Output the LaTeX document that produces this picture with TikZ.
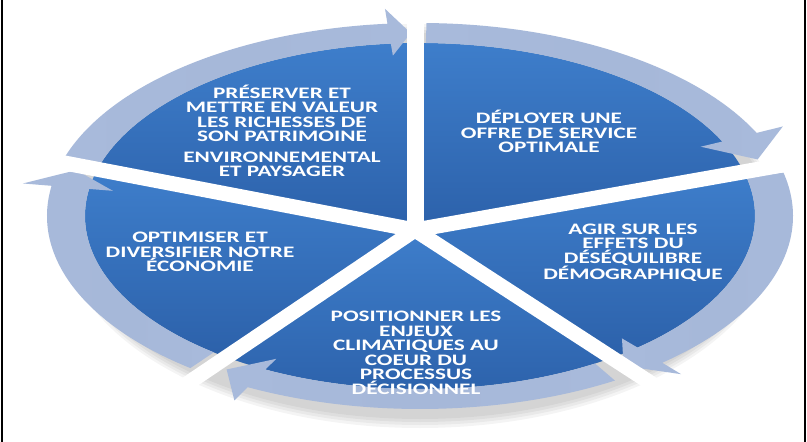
\documentclass[tikz,border=0pt]{standalone}
\usepackage{fontspec}
\newfontfamily\lblfont[FakeStretch=1.45]{Carlito}
\usetikzlibrary{calc}
\definecolor{slicetop}{HTML}{3E7ECB}
\definecolor{slicebot}{HTML}{2C61AA}
\definecolor{ringcol}{HTML}{A8BADB}
\definecolor{ringdark}{HTML}{8E9FC0}
\tikzset{
  slicefill/.style={top color=slicetop, bottom color=slicebot},
  ringfill/.style={left color=ringcol, right color=ringcol, middle color=ringcol!92!ringdark},
  gapline/.style={draw=white, line width=15pt},
  lbl/.style={text=white, align=center, inner sep=0pt, font=\lblfont\bfseries\fontsize{16}{14.5}\selectfont},
  framerule/.style={draw=black, line width=1.6pt}
}
\newcommand\pieslice[2]{%
  \path[slicefill] (S) -- ($(C)+(#1:335 and 173)$)
    arc[start angle=#1, end angle=#2, x radius=335, y radius=173] -- cycle;}
\newcommand\ringarrow[3]{%
  \path[ringfill] ($(C)+(#1:373 and 193)$)
    arc[start angle=#1, end angle=#2, x radius=373, y radius=193]
    -- ($(C)+(#2:402 and 208)$)
    -- ($(C)+(#3:355 and 183)$)
    -- ($(C)+(#2:311 and 161)$)
    -- ($(C)+(#2:335 and 173)$)
    arc[start angle=#2, end angle=#1, x radius=335, y radius=173] -- cycle;}
\begin{document}
\begin{tikzpicture}[x=1pt,y=1pt]
\useasboundingbox (0,0) rectangle (807,-442);
\fill[white] (0,0) rectangle (807,-442);
\coordinate (C) at (420,-216);
\coordinate (S) at (415,-230);
% soft shadow under the bottom
\foreach \k in {0,1,2,3}{
  \fill[black, opacity=0.045] ($(C)+(0,-10)$) ellipse[x radius={352+2*\k}, y radius={193+3*\k}];
}
% slices
\pieslice{91}{164.5}
\pieslice{15}{91}
\pieslice{-56}{15}
\pieslice{-125.4}{-56}
\pieslice{164.5}{234.6}
% ring arrows (tail, back of head, tip)
\ringarrow{162}{95}{91.5}
\ringarrow{89}{25.5}{18}
\ringarrow{13}{-49.5}{-55}
\ringarrow{-58.5}{-117.5}{-123}
\ringarrow{232}{171}{165.5}
% gaps
\coordinate (g1) at (415,5);
\coordinate (g2) at (805,-161);
\coordinate (g3) at (680,-402);
\coordinate (g4) at (160,-402);
\coordinate (g5) at (28,-156);
\draw[gapline, line width=17pt] (S) -- (g1);
\draw[gapline] (S) -- (g2);
\draw[gapline] (S) -- (g3);
\draw[gapline] (S) -- (g4);
\draw[gapline] (S) -- (g5);
% frame
\draw[framerule] (2,0) -- (2,-442);
\draw[framerule] (805,0) -- (805,-442);
% labels
\node[lbl] (tA) at (282,-131) {PRÉSERVER ET\\METTRE EN VALEUR\\LES RICHESSES DE\\SON PATRIMOINE\\[6pt]ENVIRONNEMENTAL\\ET PAYSAGER};
\node[lbl] (tB) at (549,-131.5) {DÉPLOYER UNE\\OFFRE DE SERVICE\\OPTIMALE};
\node[lbl] (tC) at (633,-252.5) {AGIR SUR LES\\EFFETS DU\\DÉSÉQUILIBRE\\DÉMOGRAPHIQUE};
\node[lbl] (tD) at (416,-353) {POSITIONNER LES\\ENJEUX\\CLIMATIQUES AU\\COEUR DU\\PROCESSUS\\DÉCISIONNEL};
\node[lbl] (tE) at (200,-252) {OPTIMISER ET\\DIVERSIFIER NOTRE\\ÉCONOMIE};
\end{tikzpicture}
\end{document}
